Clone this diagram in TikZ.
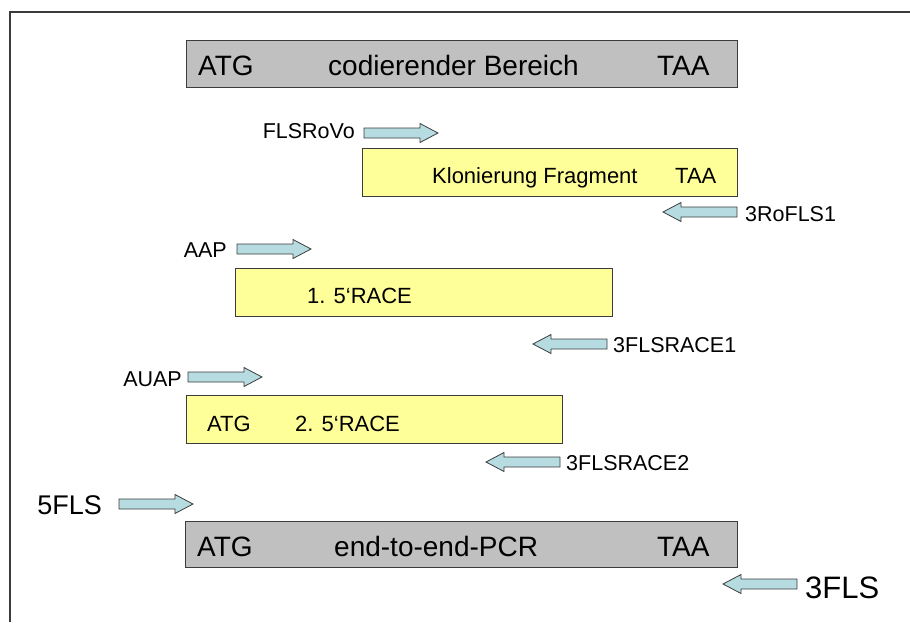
\documentclass[tikz,border=0pt]{standalone}
\usepackage{fontspec}
\setmainfont{Liberation Sans}
\definecolor{geneGray}{RGB}{192,192,192}
\definecolor{fragYellow}{RGB}{255,255,153}
\definecolor{primerBlue}{RGB}{182,220,226}
\definecolor{edge}{RGB}{60,60,60}
\tikzset{
  genebox/.style={draw=edge, line width=1.2pt, fill=geneGray, rectangle, inner sep=0pt, anchor=north west},
  fragbox/.style={draw=edge, line width=1pt, fill=fragYellow, rectangle, inner sep=0pt, anchor=north west},
  bigtext/.style={inner sep=0pt, anchor=base west, font=\fontsize{28}{30}\selectfont},
  fragtext/.style={inner sep=0pt, anchor=base west, font=\fontsize{22}{24}\selectfont},
  primerlabel/.style={inner sep=0pt, font=\fontsize{21.5}{23}\selectfont},
  primershape/.style={draw=edge, line width=0.8pt, fill=primerBlue, line join=miter},
  fwd/.pic={\path[primershape] (0,-5) -- (56,-5) -- (56,-9.5) -- (74,0) -- (56,9.5) -- (56,5) -- (0,5) -- cycle;},
  rev/.pic={\path[primershape] (0,0) -- (18,-9.5) -- (18,-5) -- (74,-5) -- (74,5) -- (18,5) -- (18,9.5) -- cycle;}
}
\begin{document}
\begin{tikzpicture}[x=1pt, y=-1pt]
\useasboundingbox (0,0) rectangle (910,622);
% frame
\draw[edge, line width=1.3pt] (10,622) -- (10,12) -- (910,12);

% coding region
\node[genebox, minimum width=551pt, minimum height=47pt] (cds) at (186,40) {};
\node[bigtext] (cdsATG) at (198,75) {ATG};
\node[bigtext] (cdsName) at (328,75) {codierender Bereich};
\node[bigtext] (cdsTAA) at (657,75) {TAA};

% cloning fragment
\node[fragbox, minimum width=375pt, minimum height=48pt] (klon) at (362,148) {};
\node[fragtext] (klonName) at (432,183) {Klonierung Fragment};
\node[fragtext] (klonTAA) at (675,183) {TAA};
\pic (pFLSRoVo) at (364,133) {fwd};
\node[primerlabel, anchor=base east] (lFLSRoVo) at (355,138) {FLSRoVo};
\pic (p3RoFLS1) at (663,212) {rev};
\node[primerlabel, anchor=base west] (l3RoFLS1) at (745,221) {3RoFLS1};

% first 5'RACE
\node[fragbox, minimum width=377pt, minimum height=48pt] (race1) at (235,268) {};
\node[fragtext] (race1Name) at (307,303) {1. 5‘RACE};
\pic (pAAP) at (237,249) {fwd};
\node[primerlabel, anchor=base east] (lAAP) at (227,257) {AAP};
\pic (p3FLSRACE1) at (533,344) {rev};
\node[primerlabel, anchor=base west] (l3FLSRACE1) at (613,352) {3FLSRACE1};

% second 5'RACE
\node[fragbox, minimum width=376pt, minimum height=48pt] (race2) at (186,395) {};
\node[fragtext] (race2ATG) at (207,431) {ATG};
\node[fragtext] (race2Name) at (295,431) {2. 5‘RACE};
\pic (pAUAP) at (188,377) {fwd};
\node[primerlabel, anchor=base east] (lAUAP) at (182,386) {AUAP};
\pic (p3FLSRACE2) at (486,462) {rev};
\node[primerlabel, anchor=base west] (l3FLSRACE2) at (566,470) {3FLSRACE2};

% end-to-end PCR
\node[genebox, minimum width=552pt, minimum height=46pt] (e2e) at (185,521) {};
\node[bigtext] (e2eATG) at (197,556) {ATG};
\node[bigtext] (e2eName) at (334,556) {end-to-end-PCR};
\node[bigtext] (e2eTAA) at (657,556) {TAA};
\pic (p5FLS) at (119,504) {fwd};
\node[inner sep=0pt, anchor=base east, font=\fontsize{27}{29}\selectfont] (l5FLS) at (102,514) {5FLS};
\pic (p3FLS) at (723,584) {rev};
\node[inner sep=0pt, anchor=base west, font=\fontsize{31}{33}\selectfont] (l3FLS) at (805,598) {3FLS};
\end{tikzpicture}
\end{document}
